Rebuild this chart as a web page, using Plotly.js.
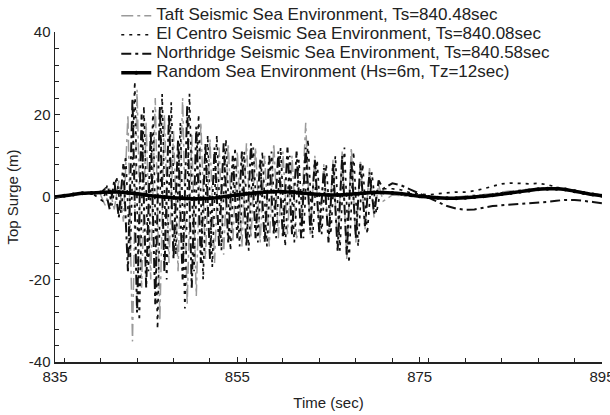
<!DOCTYPE html>
<html><head><meta charset="utf-8">
<script src="https://cdn.plot.ly/plotly-3.0.1.min.js"></script>
<style>html,body{margin:0;padding:0;background:#fff}#chart{width:610px;height:415px}</style>
</head><body><div id="chart"></div>
<script>
// ---- data ----
const seriesNames = [
  "Taft Seismic Sea Environment, Ts=840.48sec",
  "El Centro Seismic Sea Environment, Ts=840.08sec",
  "Northridge Seismic Sea Environment, Ts=840.58sec",
  "Random Sea Environment (Hs=6m, Tz=12sec)"
];

const timeA = [835,836,837,838,839,
  840,840.5,841,841.5,842,842.5,843,843.5,844,844.5,
  845,845.5,846,846.5,847,847.5,848,848.5,849,849.5,
  850,850.5,851,851.5,852,852.5,853,853.5,854,854.5,
  855,855.5,856,856.5,857,857.5,858,858.5,859,859.5,
  860,860.5,861,861.5,862,862.5,863,863.5,864,864.5,
  865,865.5,866,866.5,867,867.5,868,868.5,869,869.5,
  870,870.5,871,
  872,873,874,875,876,877,878,879,880,881,882,883,884,885,886,887,888,889,890,891,892,893,894,895];

const timeB = [835,836,837,838,839,
  840.25,840.75,841.25,841.75,842.25,842.75,843.25,843.75,844.25,844.75,
  845.25,845.75,846.25,846.75,847.25,847.75,848.25,848.75,849.25,849.75,
  850.25,850.75,851.25,851.75,852.25,852.75,853.25,853.75,854.25,854.75,
  855.25,855.75,856.25,856.75,857.25,857.75,858.25,858.75,859.25,859.75,
  860.25,860.75,861.25,861.75,862.25,862.75,863.25,863.75,864.25,864.75,
  865.25,865.75,866.25,866.75,867.25,867.75,868.25,868.75,869.25,869.75,
  870.25,870.75,
  872,873,874,875,876,877,878,879,880,881,882,883,884,885,886,887,888,889,890,891,892,893,894,895];

const taftSurge = [0,0.3,0.6,0.9,1,
  0.5,-2,2,-3,4,-6,20,-35,26,-22,
  18,-20,24,-30,20,-16,16,-18,24,-26,
  15,-24,18,-15,14,-16,12,-14,13,-11,
  11,-12,13,-10,12,-11,10,-12,13,-10,
  11,-9,10,-10,-6,18,-9,10,-8,8,
  -10,9,-12,11,-15,12,-11,9,-8,7,
  -5,3,-1,
  0.5,0.3,0,-0.2,-0.4,-0.5,-0.3,0,0.3,0.5,0.6,0.8,1.2,1.5,1.7,1.9,2.1,2.3,2.2,2,1.6,1.2,0.8,0.4];

const elCentroSurge = [0,0.3,0.6,0.9,1,
  -1,3,-2,5,-4,10,-15,28,-30,22,
  -18,21,-32,25,-20,23,-14,18,-27,25,
  -18,20,-20,15,-17,15,-13,14,-13,12,
  -12,11,-13,12,-11,11,-12,11,-10,12,
  -12,10,-11,9,-10,14,-10,9,-9,8,
  -9,10,-13,12,-16,11,-12,8,-9,6,
  -4,2,
  2,1.7,1,0.7,0.5,0.8,1,1.2,1.2,1.5,2,2.6,3.2,3.4,3.3,3.2,3.3,3,2.4,1.8,1.2,0.8,0.6,0.5];

const northridgeSurge = [0,0.3,0.6,0.9,1,
  1,2,-3,4,-5,8,-18,24,-28,20,
  -22,16,-26,22,-18,20,-15,14,-20,22,
  -22,17,-16,13,-15,12,-12,13,-11,10,
  -10,11,-12,13,-10,9,-11,10,-9,11,
  -10,12,-9,11,-10,12,-8,9,-9,7,
  -11,8,-13,10,-14,9,-10,8,-7,6,
  -4,4,2,
  3.3,2.8,1.8,0.8,-0.3,-1.3,-2.2,-2.8,-3.1,-3,-2.6,-2.2,-2,-1.9,-1.7,-1.5,-1.4,-1.2,-0.9,-0.7,-0.7,-0.9,-1.2,-1.5];

const randomTime = [835,836,837,838,839,840,841,842,843,844,
  845,846,847,848,849,850,851,852,853,854,
  855,856,857,858,859,860,861,862,863,864,
  865,866,867,868,869,870,871,872,873,874,
  875,876,877,878,879,880,881,882,883,884,
  885,886,887,888,889,890,891,892,893,894,895];
const randomSurge = [0,0.3,0.6,0.9,1,1.1,1.2,1.2,1,0.8,
  0.5,0.2,0,-0.2,-0.3,-0.4,-0.4,-0.3,-0.1,0.2,
  0.5,0.8,1,1.2,1.3,1.3,1.2,1,0.8,0.6,
  0.5,0.5,0.6,0.8,1,1.1,1.1,1,0.8,0.5,
  0.2,0,-0.2,-0.3,-0.3,-0.2,0,0.2,0.4,0.7,
  1,1.3,1.6,1.9,2,2,1.8,1.4,1,0.6,0.3];

const xTicks = [835,855,875,895];
const yTicks = [-40,-20,0,20,40];

// ---- chart ----
const FONT = "Liberation Sans, Arial, Helvetica, sans-serif";
const big = s => '<span style="font-size:17px">' + s + '</span>';
const traces = [
  {x: timeA, y: taftSurge, name: big(seriesNames[0]), mode: "lines",
   line: {color: "#9a9a9a", width: 1.5, dash: "12px,4px,3px,4px"}},
  {x: timeB, y: elCentroSurge, name: big(seriesNames[1]), mode: "lines",
   line: {color: "#111", width: 1.7, dash: "3px,5px"}},
  {x: timeA, y: northridgeSurge, name: big(seriesNames[2]), mode: "lines",
   line: {color: "#111", width: 2, dash: "10px,4px,3px,4px"}},
  {x: randomTime, y: randomSurge, name: big(seriesNames[3]), mode: "lines+markers",
   line: {color: "#000", width: 3.5, shape: "spline"},
   marker: {color: "#000", size: 4}}
];

const layout = {
  width: 610, height: 415,
  margin: {l: 55, r: 8, t: 32, b: 53, autoexpand: false},
  paper_bgcolor: "#fff", plot_bgcolor: "#fff",
  font: {family: FONT, size: 15, color: "#222"},
  showlegend: true,
  legend: {x: 0.112, y: 0.997, xanchor: "left", yanchor: "top",
           yref: "container",
           bgcolor: "rgba(255,255,255,0)", borderwidth: 0,
           font: {family: FONT, size: 12, color: "#222"},
           tracegroupgap: 0, itemwidth: 30},
  xaxis: {range: [835, 895], tickvals: xTicks, ticktext: xTicks.map(String),
          ticks: "inside", ticklen: 5, tickcolor: "#222", ticklabeloverflow: "allow",
          minor: {dtick: 4, ticks: "inside", ticklen: 4, tickcolor: "#222"},
          showline: true, linecolor: "#222", linewidth: 1.5, mirror: false,
          showgrid: false, zeroline: false,
          tickfont: {family: FONT, size: 15, color: "#222"},
          title: {text: "Time (sec)", font: {family: FONT, size: 15, color: "#222"}, standoff: 14}},
  yaxis: {range: [-40, 40], tickvals: yTicks, ticktext: yTicks.map(String),
          ticks: "inside", ticklen: 5, tickcolor: "#222",
          minor: {dtick: 4, ticks: "inside", ticklen: 4, tickcolor: "#222"},
          showline: true, linecolor: "#222", linewidth: 1.5, mirror: false,
          showgrid: false, zeroline: false,
          tickfont: {family: FONT, size: 15, color: "#222"},
          title: {text: "Top Surge (m)", font: {family: FONT, size: 15, color: "#222"}, standoff: 6}}
};

Plotly.newPlot("chart", traces, layout, {staticPlot: true, displayModeBar: false});
</script>
</body></html>
